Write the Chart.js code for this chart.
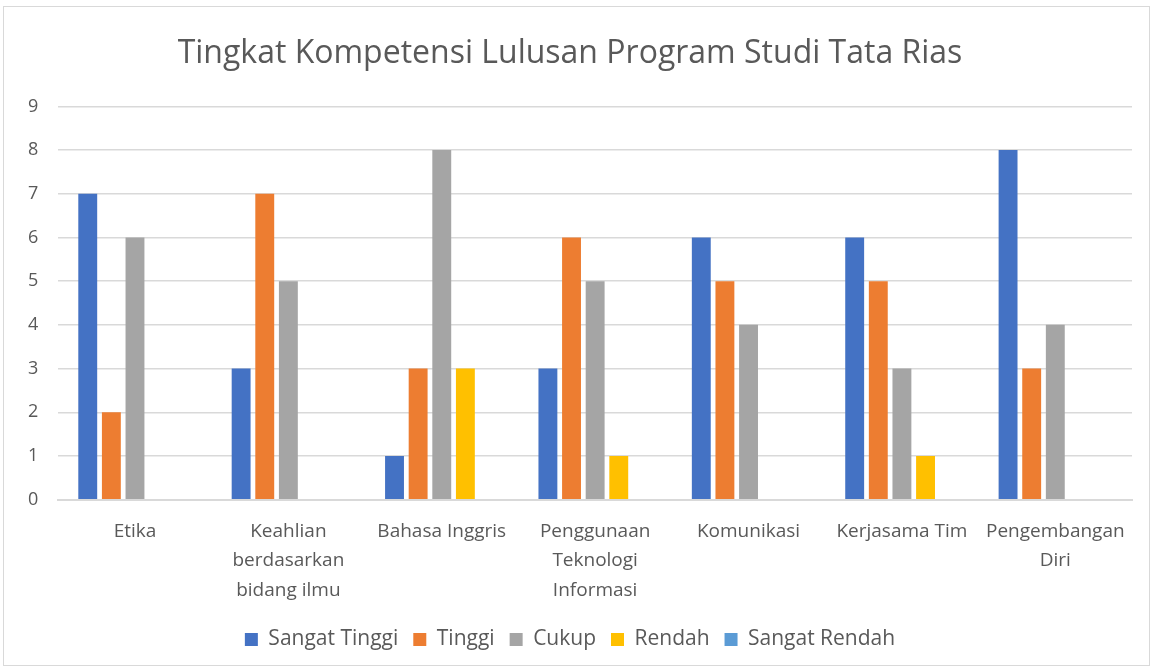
<!DOCTYPE html>
<html>
<head>
<meta charset="utf-8">
<script src="https://cdn.jsdelivr.net/npm/chart.js@4/dist/chart.umd.min.js"></script>
<style>
  html, body { margin: 0; padding: 0; background: #fff; }
  #wrap {
    position: absolute; left: 3px; top: 6px;
    width: 1147px; height: 660px;
    border: 1px solid #d9d9d9; box-sizing: border-box;
  }
</style>
</head>
<body>
<div id="wrap"><canvas id="chart"></canvas></div>
<script>
const categories = [
  'Etika',
  ['Keahlian', 'berdasarkan', 'bidang ilmu'],
  'Bahasa Inggris',
  ['Penggunaan', 'Teknologi', 'Informasi'],
  'Komunikasi',
  'Kerjasama Tim',
  ['Pengembangan', 'Diri']
];
const sangatTinggi = [7, 3, 1, 3, 6, 6, 8];
const tinggi = [2, 7, 3, 6, 5, 5, 3];
const cukup = [6, 5, 8, 5, 4, 3, 4];
const rendah = [0, 0, 3, 1, 0, 1, 0];
const sangatRendah = [0, 0, 0, 0, 0, 0, 0];
const yTicks = [0, 1, 2, 3, 4, 5, 6, 7, 8, 9];

const textColor = '#595959';
const fontFamily = "'Open Sans', 'Liberation Sans', sans-serif";

function makeSet(label, data, color) {
  return {
    label,
    data,
    backgroundColor: color,
    borderWidth: 0,
    categoryPercentage: 0.77,
    barPercentage: 0.8
  };
}

const ctx = document.getElementById('chart').getContext('2d');
new Chart(ctx, {
  type: 'bar',
  data: {
    labels: categories,
    datasets: [
      makeSet('Sangat Tinggi', sangatTinggi, '#4472c4'),
      makeSet('Tinggi', tinggi, '#ed7d31'),
      makeSet('Cukup', cukup, '#a5a5a5'),
      makeSet('Rendah', rendah, '#ffc000'),
      makeSet('Sangat Rendah', sangatRendah, '#5b9bd5')
    ]
  },
  options: {
    responsive: true,
    maintainAspectRatio: false,
    animation: false,
    layout: { padding: { left: 4, right: 17, top: 18, bottom: 5 } },
    plugins: {
      title: {
        display: true,
        text: 'Tingkat Kompetensi Lulusan Program Studi Tata Rias',
        color: textColor,
        font: { family: fontFamily, size: 32, weight: 'normal' },
        padding: { top: 10, bottom: 33 }
      },
      legend: {
        position: 'bottom',
        labels: {
          color: textColor,
          font: { family: fontFamily, size: 21 },
          boxWidth: 13,
          boxHeight: 13,
          padding: 15
        }
      },
      tooltip: { enabled: false }
    },
    scales: {
      x: {
        grid: { display: false },
        border: { color: '#d9d9d9', width: 2 },
        ticks: {
          color: textColor,
          font: { family: fontFamily, size: 19, lineHeight: 1.55 },
          maxRotation: 0,
          autoSkip: false,
          padding: 9
        }
      },
      y: {
        min: yTicks[0],
        max: yTicks[yTicks.length - 1],
        grid: { color: '#d9d9d9', lineWidth: 1.5, drawTicks: false },
        border: { display: false },
        afterBuildTicks: axis => { axis.ticks = yTicks.map(v => ({ value: v })); },
        ticks: {
          color: textColor,
          font: { family: fontFamily, size: 18 },
          padding: 20
        }
      }
    }
  }
});
</script>
</body>
</html>
